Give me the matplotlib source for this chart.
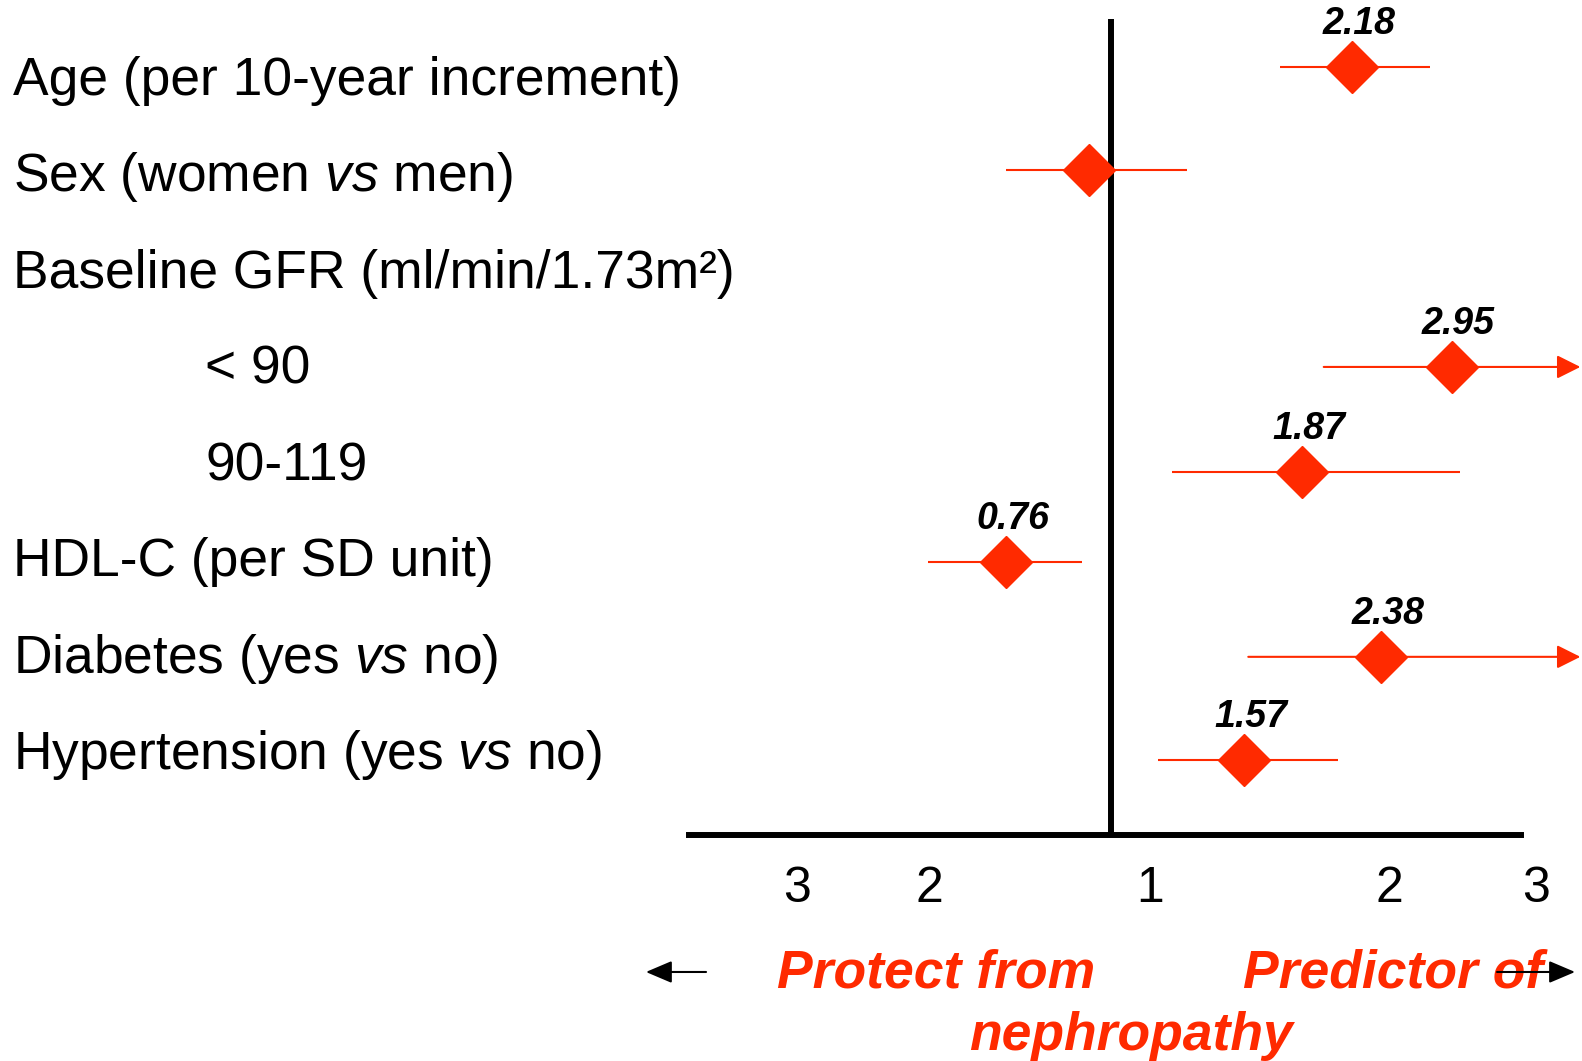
import matplotlib
matplotlib.use('Agg')
import matplotlib.pyplot as plt
import matplotlib.transforms as mtransforms
from matplotlib.patches import FancyArrowPatch
from matplotlib.ticker import NullLocator

plt.rcParams['font.family'] = ['Liberation Sans', 'DejaVu Sans']
plt.rcParams['mathtext.fontset'] = 'custom'
plt.rcParams['mathtext.rm'] = 'Liberation Sans'
plt.rcParams['mathtext.it'] = 'Liberation Sans:italic'

# row labels (top to bottom)
row_labels = ['Age (per 10-year increment)', 'Sex (women $\\it{vs}$ men)',
              'Baseline GFR (ml/min/1.73m\u00b2)', '< 90', '90-119',
              'HDL-C (per SD unit)', 'Diabetes (yes $\\it{vs}$ no)',
              'Hypertension (yes $\\it{vs}$ no)']
row_indent = [False, False, False, True, True, False, False, False]

# estimates: row where drawn, odds ratio, CI low, CI high (None = off scale)
est_rows = [-0.10, 0.96, 3.01, 4.10, 5.04, 6.02, 7.09]
est_or = [2.18, 0.98, 2.95, 1.87, 0.76, 2.38, 1.57]
est_text = ['2.18', '', '2.95', '1.87', '0.76', '2.38', '1.57']
ci_low = [1.75, 0.76, 2.00, 1.26, 0.60, 1.59, 1.21]
ci_high = [2.76, 1.32, None, 3.03, 0.96, None, 2.09]

# hand-drawn axis labels of the slide
tick_pos = [0.403, 0.603, 1.18, 2.44, 3.82]
tick_labels = ['3', '2', '1', '2', '3']
ref_line = 1.047

red = '#FF2A00'

fig = plt.figure(figsize=(15.82, 10.61), dpi=100)
ax = fig.add_axes([0, 0.213, 1, 0.787])
ax.set_xscale('log')
ax.set_xlim(0.0357, 4.387)
ax.set_ylim(7.87, -0.80)

for s in ['top', 'left', 'right']:
    ax.spines[s].set_visible(False)
ax.spines['bottom'].set_linewidth(4.3)
ax.spines['bottom'].set_bounds(0.2904, 3.645)
ax.set_yticks([])
ax.xaxis.set_minor_locator(NullLocator())
ax.set_xticks(tick_pos, labels=tick_labels)
ax.tick_params(axis='x', length=0, pad=22, labelsize=36)

ax.vlines(ref_line, -0.60, 7.87, color='black', lw=4.3, zorder=2)

# confidence intervals
xmax = ax.get_xlim()[1] * 0.995
for r, lo, hi in zip(est_rows, ci_low, ci_high):
    if hi is None:
        ax.annotate('', xy=(xmax, r), xytext=(lo, r),
                    arrowprops=dict(arrowstyle='-|>,head_length=14.4,head_width=7.2',
                                    mutation_scale=1, color=red, lw=1.5,
                                    shrinkA=0, shrinkB=0), zorder=3)
    else:
        ax.hlines(r, lo, hi, color=red, lw=1.5, zorder=3)

ax.plot(est_or, est_rows, 'D', ms=26.5, color=red, mec=red, zorder=4,
        linestyle='none')

for r, v, t in zip(est_rows, est_or, est_text):
    if t:
        ax.annotate(t, (v, r), xytext=(5, 24), textcoords='offset points',
                    ha='center', va='baseline', fontsize=27,
                    fontweight='bold', fontstyle='italic', color='black')

# row labels on the left
trans = mtransforms.blended_transform_factory(fig.transFigure, ax.transData)
for i, (lab, ind) in enumerate(zip(row_labels, row_indent)):
    ax.text(0.1296 if ind else 0.008, i + 0.04, lab, transform=trans,
            ha='left', va='center', fontsize=38.4)

# direction hints under the axis
hint = dict(color=red, fontsize=38.5, fontweight='bold', fontstyle='italic',
            va='baseline', ha='center')
fig.text(0.5917, 0.0697, 'Protect from', **hint)
fig.text(0.8805, 0.0697, 'Predictor of', **hint)
fig.text(0.7150, 0.0100, 'nephropathy', **hint)

arr = dict(arrowstyle='-|>,head_length=16,head_width=6.8', mutation_scale=1,
           color='black', lw=1.5, shrinkA=0, shrinkB=0)
fig.add_artist(FancyArrowPatch((0.4463, 0.0839), (0.4083, 0.0839),
                               transform=fig.transFigure, **arr))
fig.add_artist(FancyArrowPatch((0.9463, 0.0839), (0.9956, 0.0839),
                               transform=fig.transFigure, zorder=5, **arr))

fig.savefig('out.png', dpi=100, facecolor='white')
